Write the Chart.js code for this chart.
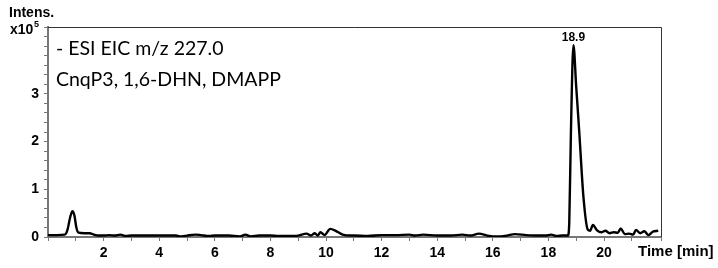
<!doctype html>
<html lang="en">
<head>
<meta charset="utf-8">
<title>EIC m/z 227.0</title>
<script src="https://cdn.jsdelivr.net/npm/chart.js"></script>
<style>
  body { margin: 0; background: #fff; }
  #wrap { width: 718px; height: 268px; position: relative; }
</style>
</head>
<body>
<div id="wrap"><canvas id="eic"></canvas></div>
<script>
// retention time (min) and intensity (x10^5)
const times = [0.0, 0.3, 0.6, 0.7, 0.8, 0.88, 0.95, 1.02, 1.1, 1.3, 1.5, 1.65, 1.8,
  2.0, 2.2, 2.4, 2.6, 2.8, 3.0, 3.4, 3.8, 4.2, 4.6, 4.8, 5.0, 5.3, 5.5, 5.8, 6.0,
  6.5, 6.9, 7.1, 7.3, 7.6, 8.0, 8.3, 8.6, 9.0, 9.3, 9.45, 9.6, 9.7, 9.8, 9.95,
  10.15, 10.35, 10.6, 10.9, 11.0, 11.5, 12.0, 12.5, 13.0, 13.2, 13.5, 14.0, 14.5,
  14.9, 15.2, 15.5, 15.8, 16.2, 16.5, 16.8, 17.2, 17.6, 17.9, 18.1, 18.3, 18.5,
  18.7, 18.75, 18.81, 18.9, 19.0, 19.11, 19.26, 19.42, 19.5, 19.6, 19.75, 19.9,
  20.05, 20.2, 20.35, 20.5, 20.6, 20.75, 20.9, 21.05, 21.15, 21.3, 21.45, 21.6,
  21.75, 21.95];
const intens = [0.04, 0.04, 0.05, 0.15, 0.42, 0.54, 0.45, 0.2, 0.09, 0.08, 0.08, 0.05, 0.03,
  0.03, 0.04, 0.03, 0.05, 0.02, 0.03, 0.03, 0.03, 0.03, 0.03, 0.01, 0.03, 0.05, 0.04, 0.02, 0.03,
  0.03, 0.01, 0.05, 0.01, 0.03, 0.03, 0.02, 0.02, 0.03, 0.07, 0.03, 0.08, 0.03, 0.10, 0.04,
  0.17, 0.13, 0.05, 0.03, 0.03, 0.02, 0.04, 0.04, 0.05, 0.03, 0.05, 0.03, 0.03,
  0.05, 0.03, 0.07, 0.03, 0.01, 0.03, 0.06, 0.04, 0.03, 0.03, 0.05, 0.02, 0.03,
  0.03, 0.3, 2.2, 4.02, 3.15, 2.2, 0.84, 0.15, 0.13, 0.25, 0.14, 0.1,
  0.13, 0.08, 0.1, 0.09, 0.18, 0.06, 0.07, 0.05, 0.15, 0.08, 0.12, 0.04,
  0.11, 0.13];
const peakLabels = [{ t: 18.9, y: 4.02, text: '18.9' }];
const traceInfo = ['- ESI EIC m/z 227.0', 'CnqP3, 1,6-DHN, DMAPP'];

const points = times.map((t, i) => ({ x: t, y: intens[i] }));

const textPlugin = {
  id: 'texts',
  afterDraw(chart) {
    const ctx = chart.ctx;
    const a = chart.chartArea;
    const xs = chart.scales.x, ys = chart.scales.y;
    ctx.save();
    // frame top + right
    ctx.strokeStyle = '#333';
    ctx.lineWidth = 1;
    ctx.beginPath();
    ctx.moveTo(a.left, a.top + 0.5);
    ctx.lineTo(a.right + 0.5, a.top + 0.5);
    ctx.lineTo(a.right + 0.5, a.bottom);
    ctx.stroke();

    ctx.fillStyle = '#000';
    ctx.font = 'bold 14px "Liberation Sans", Arial';
    ctx.textBaseline = 'alphabetic';
    ctx.textAlign = 'left';
    ctx.fillText('Intens.', 9, 17);
    ctx.fillText('x10', 10, 34);
    ctx.font = 'bold 9px "Liberation Sans", Arial';
    ctx.fillText('5', 34, 27);

    ctx.font = 'bold 15px "Liberation Sans", Arial';
    ctx.textBaseline = 'middle';
    ctx.fillText('Time [min]', 638, 252);

    ctx.font = '19.5px Lato, "Open Sans", sans-serif';
    ctx.textBaseline = 'alphabetic';
    ctx.fillText(traceInfo[0], 56, 55);
    ctx.fillText(traceInfo[1], 56, 86);

    ctx.font = 'bold 12px "Liberation Sans", Arial';
    ctx.textAlign = 'center';
    peakLabels.forEach(p => {
      ctx.fillText(p.text, xs.getPixelForValue(p.t), ys.getPixelForValue(p.y) - 4);
    });
    ctx.restore();
  }
};

function isInt(v) { return Math.abs(v - Math.round(v)) < 1e-6; }

new Chart(document.getElementById('eic'), {
  type: 'line',
  data: {
    datasets: [{
      data: points,
      borderColor: '#000',
      borderWidth: 2.4,
      pointRadius: 0,
      cubicInterpolationMode: 'monotone',
      fill: false
    }]
  },
  options: {
    responsive: true,
    maintainAspectRatio: false,
    animation: false,
    layout: { padding: { top: 27, right: 57, left: 0, bottom: 0 } },
    plugins: { legend: { display: false }, tooltip: { enabled: false } },
    scales: {
      x: {
        type: 'linear',
        min: 0,
        max: 22.05,
        afterFit(s) { s.height = 31; },
        border: { display: true, color: '#777', width: 2 },
        grid: { drawOnChartArea: false, drawTicks: true, tickLength: 4, color: '#777' },
        ticks: {
          stepSize: 1,
          autoSkip: false,
          maxRotation: 0,
          padding: 4,
          color: '#000',
          font: { family: '"Liberation Sans", Arial', size: 14, weight: 'bold' },
          callback(v) {
            return (isInt(v) && Math.round(v) % 2 === 0 && v > 0 && v < 21) ? String(Math.round(v)) : '';
          }
        }
      },
      y: {
        min: 0,
        max: 4.4,
        afterFit(s) { s.width = 48; },
        border: { display: true, color: '#777', width: 2 },
        grid: { drawOnChartArea: false, drawTicks: true, tickLength: 4, color: '#777' },
        ticks: {
          stepSize: 0.2,
          autoSkip: false,
          padding: 5,
          color: '#000',
          font: { family: '"Liberation Sans", Arial', size: 14, weight: 'bold' },
          callback(v) { return (isInt(v) && v < 4) ? String(Math.round(v)) : ''; }
        }
      }
    }
  },
  plugins: [textPlugin]
});
</script>
</body>
</html>
